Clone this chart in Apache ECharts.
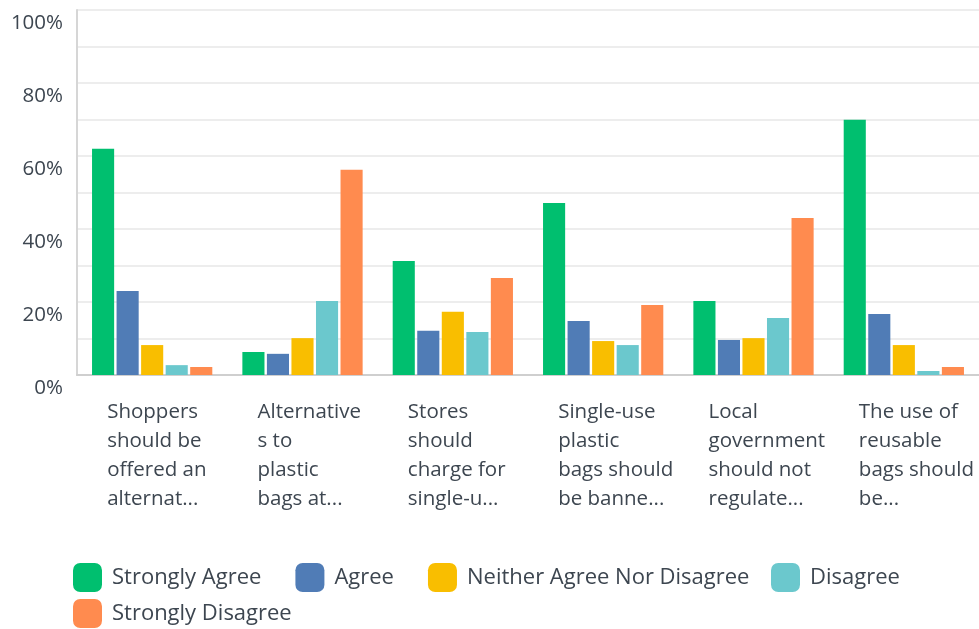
<!DOCTYPE html>
<html>
<head>
<meta charset="utf-8">
<script src="https://cdn.jsdelivr.net/npm/echarts@6/dist/echarts.min.js"></script>
<style>
html,body{margin:0;padding:0;background:#fff;}
#chart{width:979px;height:629px;}
</style>
</head>
<body>
<div id="chart"></div>
<script>
var categories = [
  "Shoppers\nshould be\noffered an\nalternat...",
  "Alternative\ns to\nplastic\nbags at...",
  "Stores\nshould\ncharge for\nsingle-u...",
  "Single-use\nplastic\nbags should\nbe banne...",
  "Local\ngovernment\nshould not\nregulate...",
  "The use of\nreusable\nbags should\nbe..."
];
var seriesNames = ["Strongly Agree", "Agree", "Neither Agree Nor Disagree", "Disagree", "Strongly Disagree"];
var stronglyAgree = [62.0, 6.3, 31.2, 47.1, 20.3, 69.9];
var agree = [23.0, 5.8, 12.1, 14.8, 9.6, 16.7];
var neither = [8.2, 10.1, 17.3, 9.3, 10.1, 8.2];
var disagree = [2.7, 20.3, 11.8, 8.2, 15.6, 1.1];
var stronglyDisagree = [2.2, 56.2, 26.6, 19.2, 43.0, 2.2];
var yTicks = [0, 20, 40, 60, 80, 100];

var colors = ["#00bf6f", "#507cb6", "#f9be00", "#6bc8cd", "#ff8b4f"];
var values = [stronglyAgree, agree, neither, disagree, stronglyDisagree];
var textColor = "#3d4650";
var font = "'Open Sans', sans-serif";

var chart = echarts.init(document.getElementById('chart'), null, {renderer: 'canvas'});
var series = seriesNames.map(function (name, i) {
  return {
    name: name,
    type: 'bar',
    data: values[i],
    itemStyle: {color: colors[i]},
    barCategoryGap: '20%',
    barGap: '11%',
    animation: false
  };
});
function legendAt(left, top, names) {
  return {
    left: left,
    top: top,
    data: names,
    padding: 0,
    itemWidth: 29,
    itemHeight: 29,
    itemGap: 34,
    icon: 'roundRect',
    textStyle: {fontSize: 22, color: textColor, fontFamily: font, padding: [0, 0, 0, 5]}
  };
}
chart.setOption({
  animation: false,
  color: colors,
  textStyle: {fontFamily: font},
  grid: {left: 77, right: 0, top: 10, bottom: 254, containLabel: false},
  legend: [
    legendAt(73, 563, seriesNames.slice(0, 3)),
    legendAt(771, 563, seriesNames.slice(3, 4)),
    legendAt(73, 599, seriesNames.slice(4))
  ],
  xAxis: {
    type: 'category',
    data: categories,
    axisLine: {lineStyle: {color: '#cfcfcf', width: 2}},
    axisTick: {show: false},
    axisLabel: {
      interval: 0,
      margin: 23,
      formatter: function (v) { return '{a|' + v + '}'; },
      rich: {a: {width: 90, align: 'left', lineHeight: 29, fontSize: 20.5, color: textColor, fontFamily: font}}
    }
  },
  yAxis: {
    type: 'value',
    min: 0,
    max: 100,
    interval: 10,
    axisLine: {show: true, lineStyle: {color: '#d6d6d6', width: 2}},
    axisTick: {show: false},
    splitLine: {lineStyle: {color: '#ededed', width: 2}},
    axisLabel: {
      margin: 14,
      verticalAlign: 'top',
      padding: [3, 0, 0, 0],
      fontSize: 20.5,
      color: textColor,
      fontFamily: font,
      formatter: function (v) { return yTicks.indexOf(v) >= 0 ? v + '%' : ''; }
    }
  },
  series: series
});
</script>
</body>
</html>
